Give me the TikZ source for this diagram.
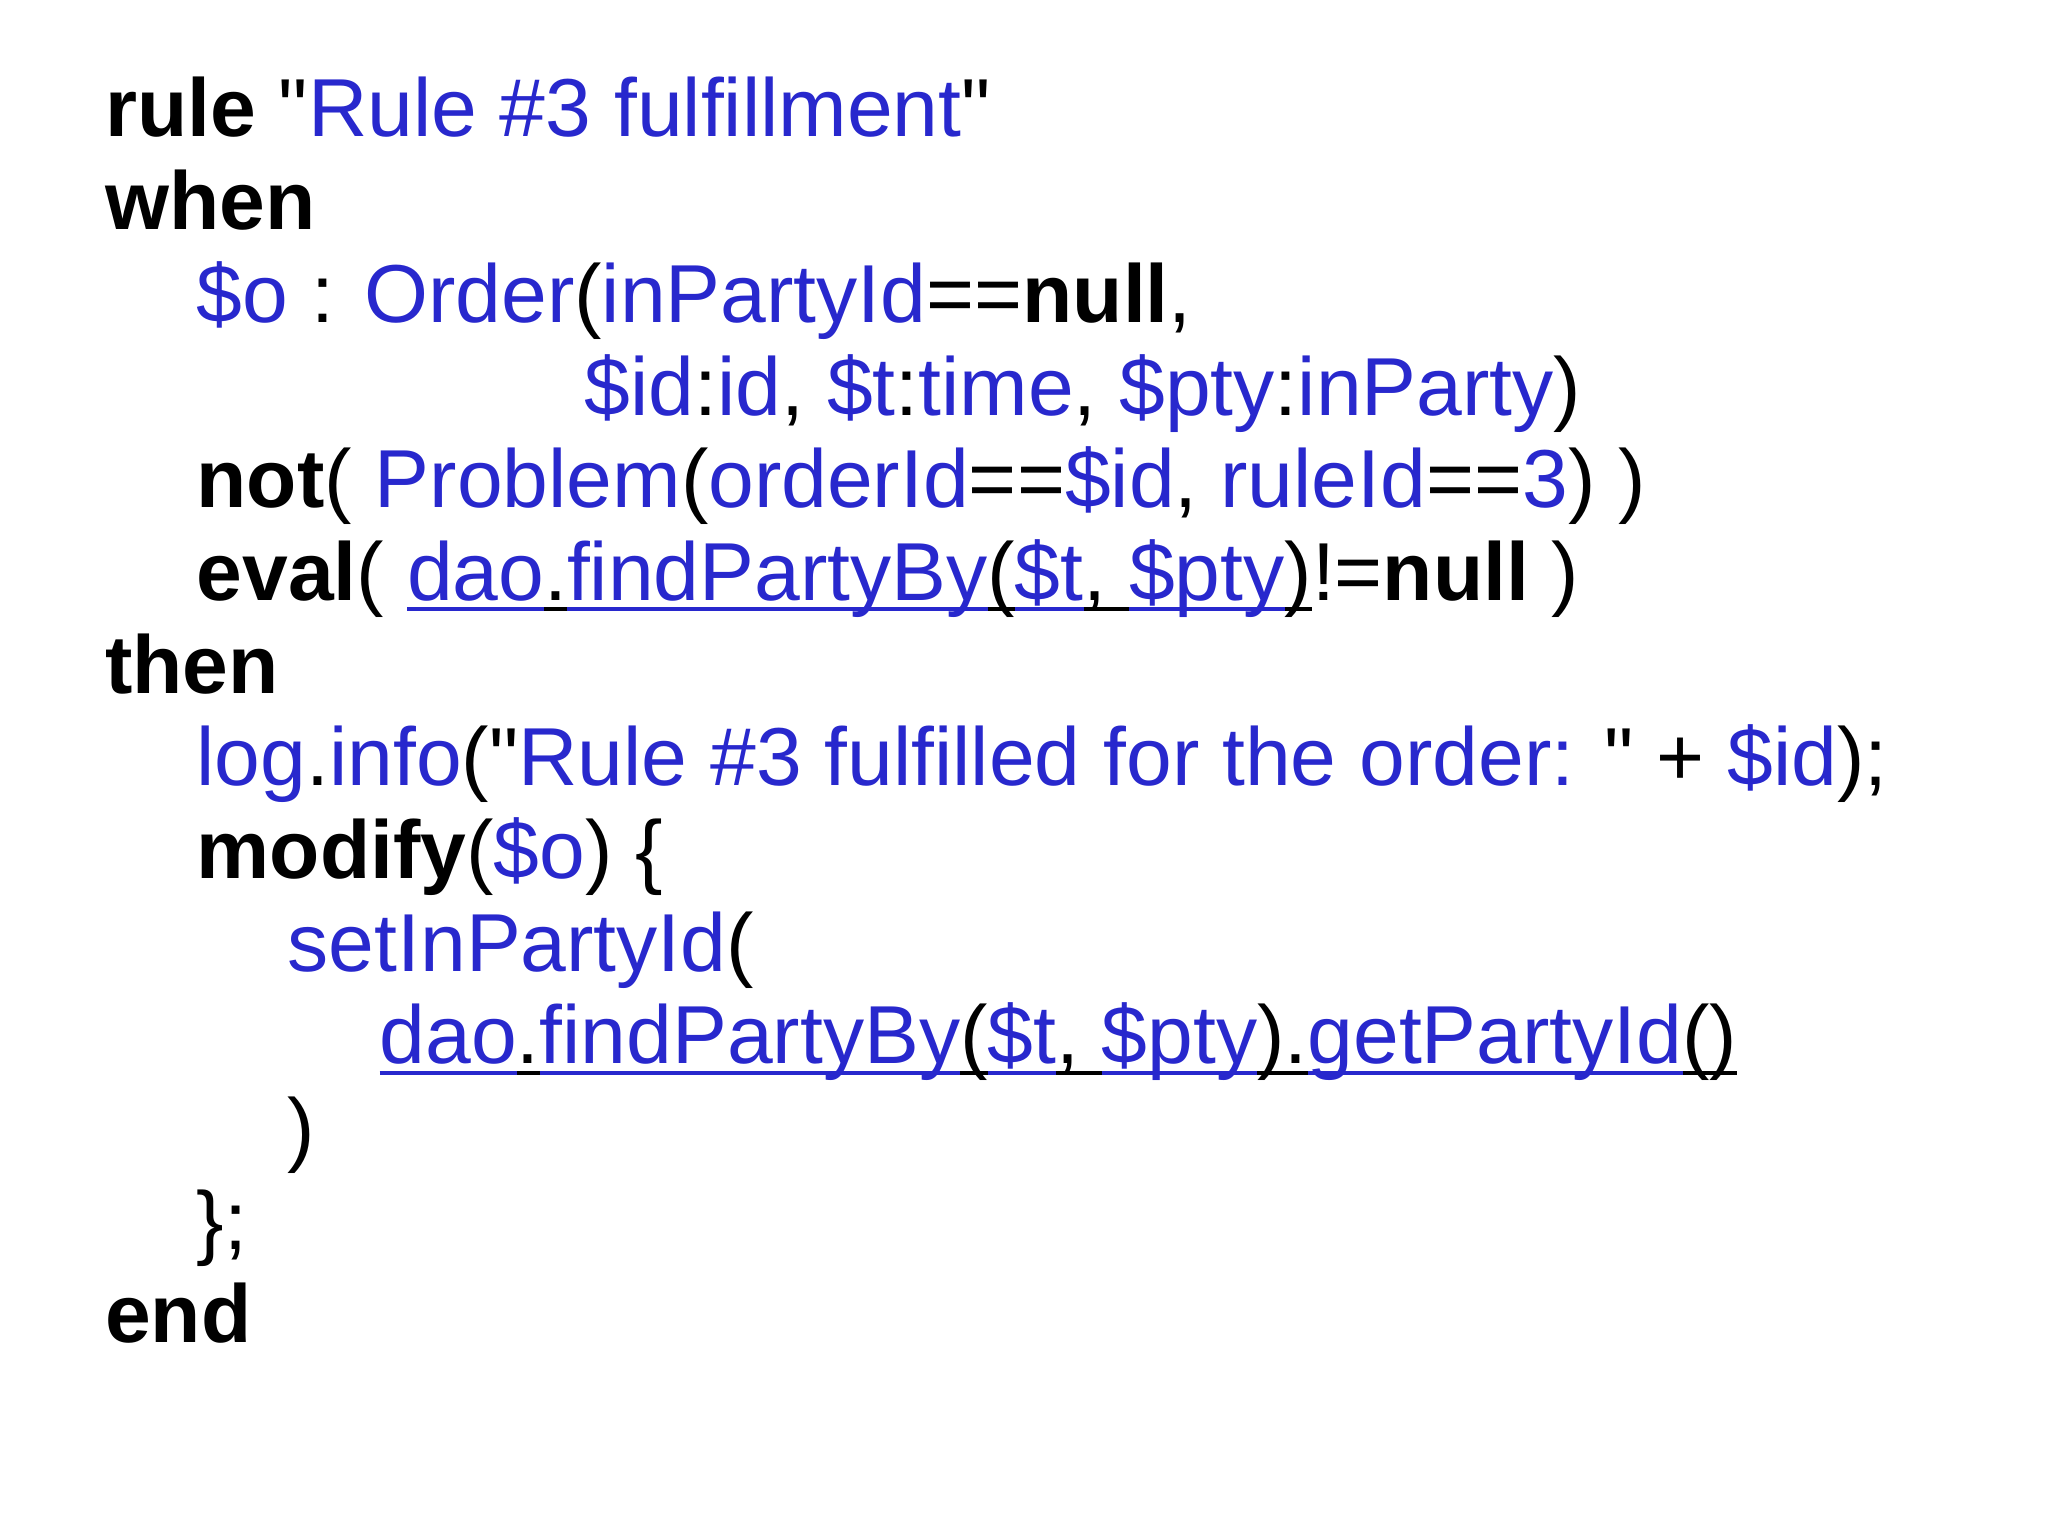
\documentclass[tikz,border=0pt]{standalone}
\usepackage{fontspec}
\setmainfont[Ligatures=NoCommon]{Liberation Sans}
\definecolor{cb}{RGB}{40,40,205}
\newcommand\B[1]{\textcolor{cb}{#1}}
\newcommand\K[1]{\textbf{#1}}
\newcommand\Q{\textquotedbl}
\newcommand\U[1]{\setbox0\hbox{#1}\rlap{\vrule height -0.08em depth 0.13em width\wd0}\box0}
\newcommand\UB[1]{\textcolor{cb}{\U{#1}}}
\begin{document}
\begin{tikzpicture}[line/.style={anchor=base west,inner sep=0pt,font=\fontsize{23.4}{27}\selectfont}]
\useasboundingbox (0,0) rectangle (20.48,15.35);
\def\dy{0.927}
\node[line] (l1) at (1.045,13.98) {\K{rule} \Q\B{Rule \#3 fulfillment}\Q};
\node[line] (l2) at (1.045,13.98-1*\dy) {\K{when}};
\node[line] (l3) at (1.96,13.98-2*\dy) {\B{\$o} : \B{Order}(\B{inPartyId}==\K{null},};
\node[line] (l4) at (5.84,13.98-3*\dy) {\B{\$id}:\B{id}, \B{\$t}:\B{time}, \B{\$pty}:\B{inParty})};
\node[line] (l5) at (1.96,13.98-4*\dy) {\K{not}( \B{Problem}(\B{orderId}==\B{\$id}, \B{ruleId}==\B{3}) )};
\node[line] (l6) at (1.96,13.98-5*\dy) {\K{eval}( \UB{dao}\U{.}\UB{findPartyBy}\U{(}\UB{\$t}\U{,\ }\UB{\$pty}\U{)}!=\K{null} )};
\node[line] (l7) at (1.045,13.98-6*\dy) {\K{then}};
\node[line] (l8) at (1.96,13.98-7*\dy) {\B{log}.\B{info}(\Q\B{Rule \#3 fulfilled for the order: }\Q\ + \B{\$id});};
\node[line] (l9) at (1.96,13.98-8*\dy) {\K{modify}(\B{\$o}) \{};
\node[line] (l10) at (2.87,13.98-9*\dy) {\B{setInPartyId}(};
\node[line] (l11) at (3.79,13.98-10*\dy) {\UB{dao}\U{.}\UB{findPartyBy}\U{(}\UB{\$t}\U{,\ }\UB{\$pty}\U{).}\UB{getPartyId}\U{()}};
\node[line] (l12) at (2.87,13.98-11*\dy) {)};
\node[line] (l13) at (1.96,13.98-12*\dy) {\};};
\node[line] (l14) at (1.045,13.98-13*\dy) {\K{end}};
\end{tikzpicture}
\end{document}
